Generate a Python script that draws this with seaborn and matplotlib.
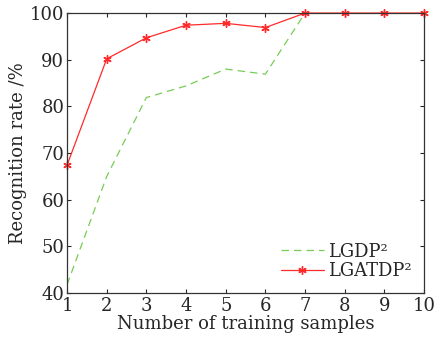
import pandas as pd
import matplotlib
matplotlib.use("Agg")
import matplotlib.pyplot as plt
import seaborn as sns

samples = [1, 2, 3, 4, 5, 6, 7, 8, 9, 10]
lgdp2 = [41.8, 65.0, 81.9, 84.4, 88.0, 86.9, 100, 100, 100, 100]
lgatdp2 = [67.4, 90.2, 94.7, 97.4, 97.8, 96.9, 100, 100, 100, 100]

sns.set_style("ticks")
plt.rcParams['font.family'] = ['DejaVu Serif']
plt.rcParams['xtick.direction'] = 'in'
plt.rcParams['ytick.direction'] = 'in'

fig = plt.figure(figsize=(4.44, 3.44), dpi=100)
ax = fig.add_axes([0.151, 0.148, 0.804, 0.814])

sns.lineplot(x=samples, y=lgdp2, ax=ax, color='#77cc55', linestyle=(0, (6, 4)),
             linewidth=0.9, label='LGDP²')
sns.lineplot(x=samples, y=lgatdp2, ax=ax, color='#ff2a2a', linewidth=0.9,
             marker=(6, 2, 0), markersize=6, markeredgewidth=1.0,
             markeredgecolor='#ff2a2a', label='LGATDP²', clip_on=False)

ax.set_xlim(1, 10)
ax.set_ylim(40, 100)
ax.set_xticks(samples)
ax.set_yticks([40, 50, 60, 70, 80, 90, 100])
ax.tick_params(labelsize=13, length=3, top=True, right=True)
ax.tick_params(axis='x', pad=3)
ax.tick_params(axis='y', pad=2)
for s in ax.spines.values():
    s.set_color('#333333')
    s.set_linewidth(0.9)
ax.set_xlabel('Number of training samples', fontsize=13, labelpad=0)
ax.set_ylabel('Recognition rate /%', fontsize=13, labelpad=2)
ax.legend(loc='lower right', frameon=False, fontsize=13, handlelength=2.4,
          handletextpad=0.2, labelspacing=0.1, borderaxespad=0.3, numpoints=1)

fig.savefig('out.png', dpi=100)
